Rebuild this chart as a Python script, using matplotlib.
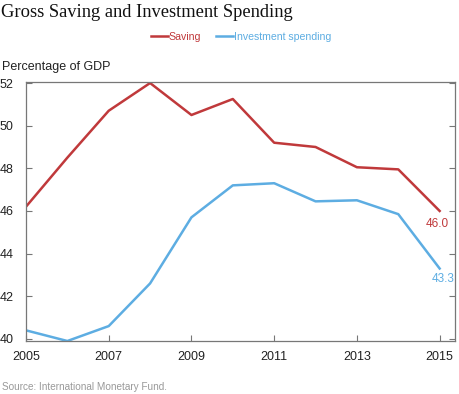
import matplotlib
matplotlib.use("Agg")
import matplotlib.pyplot as plt

years = [2005, 2006, 2007, 2008, 2009, 2010, 2011, 2012, 2013, 2014, 2015]
saving = [46.2, 48.5, 50.7, 52.0, 50.5, 51.25, 49.2, 49.0, 48.05, 47.95, 46.0]
investment = [40.4, 39.9, 40.6, 42.6, 45.7, 47.2, 47.3, 46.45, 46.5, 45.85, 43.3]
yticks = [40, 42, 44, 46, 48, 50, 52]
xticks = [2005, 2007, 2009, 2011, 2013, 2015]

red = "#C0393B"
blue = "#5DADE2"

plt.rcParams['font.family'] = ['Liberation Sans', 'DejaVu Sans']

fig = plt.figure(figsize=(4.6, 3.94), dpi=100)
ax = fig.add_axes([0.0565, 0.1345, 0.9325, 0.6575])

l1, = ax.plot(years, saving, color=red, lw=1.8, label="Saving")
l2, = ax.plot(years, investment, color=blue, lw=1.8, label="Investment spending")

ax.set_xlim(2005, 2015.37)
ax.set_ylim(39.9, 52.05)
ax.set_xticks(xticks)
ax.set_yticks(yticks)
for s in ax.spines.values():
    s.set_color("#777777")
    s.set_linewidth(0.9)
ax.tick_params(axis="both", direction="in", length=4, color="#777777", labelsize=9, labelcolor="#222222")
ax.tick_params(axis="y", right=True, pad=9)
ax.tick_params(axis="x", pad=7)

ax.text(2014.95, saving[-1] - 0.6, "46.0", color=red, fontsize=8.5, ha="center", va="center")
ax.text(2015.08, investment[-1] - 0.5, "43.3", color=blue, fontsize=8.5, ha="center", va="center")

fig.text(0.003, 0.968, "Gross Saving and Investment Spending", family="Liberation Serif", fontsize=13.3, color="#111111", va="center")
fig.text(0.005, 0.83, "Percentage of GDP", fontsize=9, color="#222222", va="center")
fig.text(0.005, 0.018, "Source: International Monetary Fund.", fontsize=7.2, color="#999999", va="center")

leg = fig.legend(handles=[l1, l2], loc="center", bbox_to_anchor=(0.524, 0.906), ncol=2, frameon=False,
                 fontsize=7.6, handlelength=1.6, handletextpad=0.1, columnspacing=1.4)
for t, c in zip(leg.get_texts(), [red, blue]):
    t.set_color(c)

fig.savefig("out.png", dpi=100)
